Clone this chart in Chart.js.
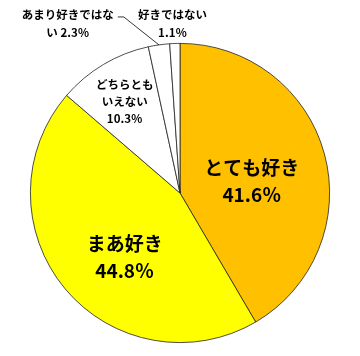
<!DOCTYPE html>
<html>
<head>
<meta charset="utf-8">
<script src="https://cdn.jsdelivr.net/npm/chart.js@4"></script>
<style>
  body { margin: 0; background: #fff; }
  canvas { display: block; }
</style>
</head>
<body>
<canvas id="pie" width="360" height="356"></canvas>
<script>
const categorias = ["とても好き", "まあ好き", "どちらともいえない", "あまり好きではない", "好きではない"];
const valores = [41.6, 44.8, 10.3, 2.3, 1.1];
const cores = ["#FFC000", "#FFFF00", "#FFFFFF", "#FFFFFF", "#FFFFFF"];

// linhas do rótulo de cada fatia
const rotulos = [
  ["とても好き", "41.6％"],
  ["まあ好き", "44.8％"],
  ["どちらとも", "いえない", "10.3％"],
  ["あまり好きではな", "い 2.3％"],
  ["好きではない", "1.1％"]
];

// posição do rótulo relativa ao centro, em unidades de raio
const posRotulo = [
  { dx: 0.48, dy: -0.08, size: 19, lh: 27 },
  { dx: -0.37, dy: 0.43, size: 19, lh: 27 },
  { dx: -0.37, dy: -0.61, size: 11.5, lh: 17 },
  { dx: -0.75, dy: -1.13, size: 11.5, lh: 18 },
  { dx: -0.05, dy: -1.13, size: 11.5, lh: 18 }
];

const FONTE = '"Noto Sans CJK JP", "Noto Sans", sans-serif';

const pluginRotulos = {
  id: "rotulos",
  afterDatasetsDraw(chart) {
    const ctx = chart.ctx;
    const arcs = chart.getDatasetMeta(0).data;
    const cx = arcs[0].x, cy = arcs[0].y, r = arcs[0].outerRadius;

    // linha guia da fatia "あまり好きではない"
    const a3 = arcs[3];
    const mid = (a3.startAngle + a3.endAngle) / 2;
    const ex = cx + Math.cos(mid) * r, ey = cy + Math.sin(mid) * r;
    const p = posRotulo[3];
    const sx = cx + p.dx * r + 50, sy = cy + p.dy * r - 7;
    ctx.save();
    ctx.strokeStyle = "#000";
    ctx.lineWidth = 0.8;
    ctx.beginPath();
    ctx.moveTo(sx, sy);
    ctx.lineTo(sx + 6, sy);
    ctx.lineTo(ex, ey);
    ctx.stroke();

    ctx.fillStyle = "#000";
    ctx.textAlign = "center";
    ctx.textBaseline = "middle";
    rotulos.forEach((linhas, i) => {
      const pos = posRotulo[i];
      ctx.font = `bold ${pos.size}px ${FONTE}`;
      const x = cx + pos.dx * r;
      const y0 = cy + pos.dy * r - (linhas.length - 1) * pos.lh / 2;
      linhas.forEach((t, k) => ctx.fillText(t, x, y0 + k * pos.lh));
    });
    ctx.restore();
  }
};

new Chart(document.getElementById("pie"), {
  type: "pie",
  data: {
    labels: categorias,
    datasets: [{
      data: valores,
      backgroundColor: cores,
      borderColor: "#222",
      borderWidth: 0.8
    }]
  },
  options: {
    responsive: false,
    animation: false,
    layout: { padding: { top: 43, bottom: 13, left: 30, right: 30 } },
    plugins: { legend: { display: false }, tooltip: { enabled: false } }
  },
  plugins: [pluginRotulos]
});
</script>
</body>
</html>
